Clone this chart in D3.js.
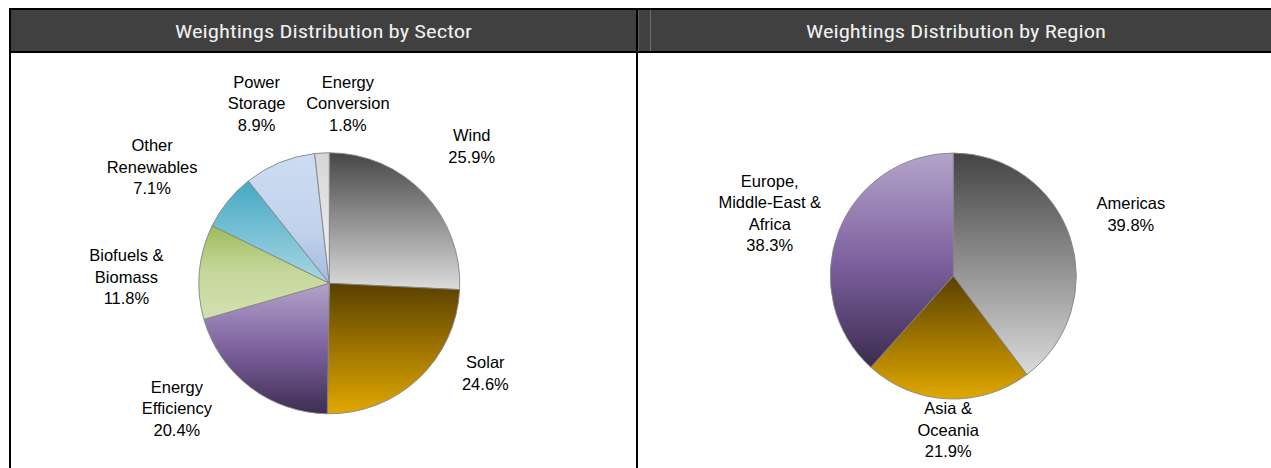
<!DOCTYPE html>
<html>
<head>
<meta charset="utf-8">
<script src="https://cdn.jsdelivr.net/npm/d3@7/dist/d3.min.js"></script>
<style>
  html, body { margin: 0; padding: 0; background: #fff; }
  svg { display: block; }
</style>
</head>
<body>
<script>
// ---- data ----
const sectorTitle = "Weightings Distribution by Sector";
const sectorNames = [["Wind"], ["Solar"], ["Energy", "Efficiency"], ["Biofuels &", "Biomass"], ["Other", "Renewables"], ["Power", "Storage"], ["Energy", "Conversion"]];
const sectorValues = [25.9, 24.6, 20.4, 11.8, 7.1, 8.9, 1.8];

const regionTitle = "Weightings Distribution by Region";
const regionNames = [["Americas"], ["Asia &", "Oceania"], ["Europe,", "Middle-East &", "Africa"]];
const regionValues = [39.8, 21.9, 38.3];

// ---- styling / layout (kept apart from data) ----
const sectorGradients = [
  [["0%", "#474747"], ["100%", "#dcdcdc"]],
  [["0%", "#5a4000"], ["100%", "#e0a800"]],
  [["0%", "#b3a3ca"], ["50%", "#7d629e"], ["100%", "#3d2d52"]],
  [["0%", "#9dbb5c"], ["50%", "#c6d89c"], ["100%", "#d2e0b0"]],
  [["0%", "#45a9c4"], ["100%", "#a9d6e3"]],
  [["0%", "#cddcf1"], ["60%", "#c0d2ec"], ["100%", "#a2bbdf"]],
  [["0%", "#d6d6d6"], ["100%", "#f2f2f2"]]
];
const regionGradients = [
  [["0%", "#444444"], ["100%", "#dadada"]],
  [["0%", "#5a4000"], ["100%", "#e0a800"]],
  [["0%", "#b4a4ca"], ["50%", "#7e62a0"], ["100%", "#3b2b4f"]]
];
// label placement: [angle from top in degrees, distance from pie centre]
const sectorLabelPolar = [[46.0, 198], [119.9, 180], [230.7, 197], [271.9, 203], [303.3, 212], [338.0, 194], [5.9, 181]];
const regionLabelPolar = [[70.8, 188], [181.9, 154], [288.9, 194]];

const W = 1271, H = 468;
const svg = d3.select("body").append("svg").attr("width", W).attr("height", H);
const defs = svg.append("defs");

// frame
svg.append("rect").attr("x", 9).attr("y", 8).attr("width", W - 9).attr("height", 45).attr("fill", "#000");
svg.append("rect").attr("x", 11).attr("y", 10).attr("width", W - 11).attr("height", 41).attr("fill", "#404040");
svg.append("rect").attr("x", 9).attr("y", 8).attr("width", 2).attr("height", H - 8).attr("fill", "#000");
svg.append("rect").attr("x", 636).attr("y", 8).attr("width", 2).attr("height", H - 8).attr("fill", "#000");
svg.append("rect").attr("x", 638).attr("y", 10).attr("width", 1).attr("height", 41).attr("fill", "#5a5a5a");
svg.append("rect").attr("x", 650).attr("y", 10).attr("width", 1).attr("height", 41).attr("fill", "#6e6e6e");

function title(text, cx, width) {
  svg.append("text")
    .attr("x", cx).attr("y", 31)
    .attr("text-anchor", "middle")
    .attr("dominant-baseline", "central")
    .attr("font-family", "'Liberation Sans Narrow', 'Roboto Condensed', 'DejaVu Sans Condensed', 'Liberation Sans', sans-serif")
    .attr("font-size", 19)
    .attr("fill", "#f0f0f0")
    .attr("textLength", width)
    .attr("lengthAdjust", "spacingAndGlyphs")
    .text(text);
}
title(sectorTitle, 323.5, 297);
title(regionTitle, 956, 300);

function drawPie(id, names, values, grads, polar, cx, cy, r) {
  const pie = d3.pie().sort(null).value(d => d).startAngle(0).endAngle(2 * Math.PI);
  const arcs = pie(values);
  const arc = d3.arc().innerRadius(0).outerRadius(r);

  grads.forEach((stops, i) => {
    const g = defs.append("linearGradient").attr("id", id + i)
      .attr("x1", 0).attr("y1", 0).attr("x2", 0).attr("y2", 1);
    stops.forEach(s => g.append("stop").attr("offset", s[0]).attr("stop-color", s[1]));
  });

  const g = svg.append("g").attr("transform", `translate(${cx},${cy})`);
  g.selectAll("path").data(arcs).enter().append("path")
    .attr("d", arc)
    .attr("fill", (d, i) => `url(#${id}${i})`)
    .attr("stroke", "#858585")
    .attr("stroke-width", 0.9)
    .attr("stroke-linejoin", "round");

  const fmt = d3.format(".1f");
  const lh = 21.5;
  arcs.forEach((d, i) => {
    const a = polar[i][0] * Math.PI / 180, dist = polar[i][1];
    const lx = Math.sin(a) * dist, ly = -Math.cos(a) * dist;
    const lines = names[i].concat([fmt(values[i]) + "%"]);
    const t = g.append("text")
      .attr("text-anchor", "middle")
      .attr("font-family", "'Liberation Sans', Arial, sans-serif")
      .attr("font-size", 16.5)
      .attr("fill", "#000");
    lines.forEach((ln, k) => {
      t.append("tspan")
        .attr("x", lx)
        .attr("y", ly + (k - (lines.length - 1) / 2) * lh)
        .attr("dominant-baseline", "central")
        .text(ln);
    });
  });
}

drawPie("sg", sectorNames, sectorValues, sectorGradients, sectorLabelPolar, 329.3, 283.3, 130.5);
drawPie("rg", regionNames, regionValues, regionGradients, regionLabelPolar, 953.3, 276, 123);
</script>
</body>
</html>
